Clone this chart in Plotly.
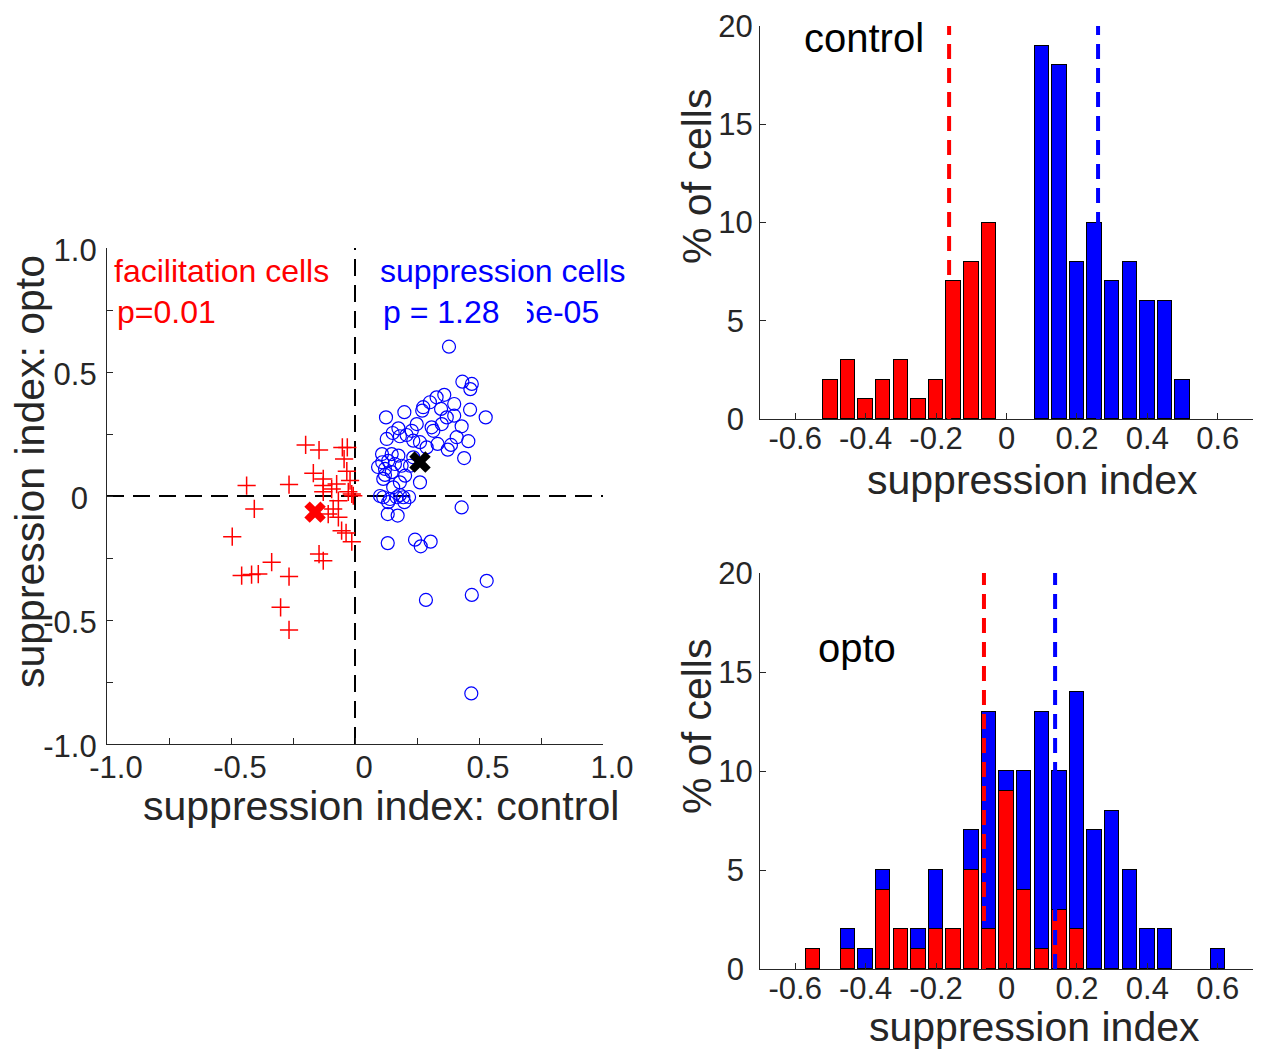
import plotly.graph_objects as go

# ---------------- data ----------------
# scatter: facilitation cells (red +)
fac_x = [-0.199, -0.145, -0.051, -0.031, -0.044, -0.033, -0.168, -0.128, -0.074, -0.020,
         -0.437, -0.266, -0.128, -0.094, -0.128, -0.027, -0.013, -0.007, -0.067, -0.406,
         -0.088, -0.108, -0.067, -0.054, -0.036, -0.013, -0.495, -0.145, -0.128, -0.336,
         -0.457, -0.417, -0.390, -0.266, -0.300, -0.266]
fac_y = [0.206, 0.185, 0.196, 0.196, 0.149, 0.100, 0.092, 0.069, 0.048, 0.062,
         0.042, 0.046, 0.042, 0.028, 0.017, 0.017, 0.008, 0.001, -0.019, -0.052,
         -0.052, -0.073, -0.086, -0.140, -0.149, -0.184, -0.164, -0.234, -0.261, -0.267,
         -0.321, -0.317, -0.315, -0.325, -0.449, -0.540]
# scatter: suppression cells (blue o)
sup_x = [0.379, 0.433, 0.471, 0.465, 0.360, 0.329, 0.302, 0.275, 0.347, 0.400,
         0.464, 0.527, 0.125, 0.199, 0.271, 0.370, 0.400, 0.249, 0.350, 0.430,
         0.175, 0.152, 0.229, 0.316, 0.128, 0.181, 0.208, 0.235, 0.262, 0.333,
         0.387, 0.410, 0.457, 0.374, 0.289, 0.440, 0.148, 0.175, 0.110, 0.134,
         0.161, 0.121, 0.188, 0.148, 0.202, 0.181, 0.114, 0.262, 0.154, 0.114,
         0.141, 0.168, 0.195, 0.134, 0.199, 0.430, 0.132, 0.172, 0.222, 0.235,
         0.309, 0.132, 0.242, 0.265, 0.305, 0.531, 0.471, 0.286, 0.469, 0.101,
         0.218, 0.181, 0.121, 0.093, 0.109]
sup_y = [0.602, 0.461, 0.452, 0.431, 0.408, 0.398, 0.378, 0.358, 0.351, 0.371,
         0.348, 0.317, 0.317, 0.338, 0.344, 0.317, 0.324, 0.290, 0.290, 0.281,
         0.273, 0.254, 0.263, 0.263, 0.230, 0.241, 0.246, 0.223, 0.217, 0.210,
         0.206, 0.237, 0.221, 0.187, 0.196, 0.153, 0.169, 0.163, 0.136, 0.142,
         0.129, 0.109, 0.122, 0.096, 0.082, 0.055, 0.069, 0.055, 0.035, -0.005,
         -0.012, -0.005, -0.005, -0.025, -0.025, -0.046, -0.073, -0.079, 0.122, 0.156,
         0.277, -0.190, -0.176, -0.203, -0.184, -0.342, -0.399, -0.419, -0.796, 0.000,
         -0.004, 0.004, 0.085, 0.117, 0.169]
fac_mean = (-0.161, -0.065)
sup_mean = (0.262, 0.137)

# histogram: control
ctrl_red_x = [-0.50, -0.45, -0.40, -0.35, -0.30, -0.25, -0.20, -0.15, -0.10, -0.05]
ctrl_red_pct = [2, 3, 1, 2, 3, 1, 2, 7, 8, 10]
ctrl_blue_x = [0.10, 0.15, 0.20, 0.25, 0.30, 0.35, 0.40, 0.45, 0.50]
ctrl_blue_pct = [19, 18, 8, 10, 7, 8, 6, 6, 2]
ctrl_red_median = -0.163
ctrl_blue_median = 0.26

# histogram: opto (red part and blue part stacked)
opto_x = [-0.55, -0.45, -0.40, -0.35, -0.30, -0.25, -0.20, -0.15, -0.10, -0.05, 0.00,
          0.05, 0.10, 0.15, 0.20, 0.25, 0.30, 0.35, 0.40, 0.45, 0.60]
opto_red_pct = [1, 1, 0, 4, 2, 1, 2, 2, 5, 2, 9, 4, 1, 3, 2, 0, 0, 0, 0, 0, 0]
opto_blue_pct = [0, 1, 1, 1, 0, 1, 3, 0, 2, 11, 1, 6, 12, 7, 12, 7, 8, 5, 2, 2, 1]
opto_red_median = -0.064
opto_blue_median = 0.138

NB = "\u00a0"
scatter_ticks = [-1.0, -0.75, -0.5, -0.25, 0, 0.25, 0.5, 0.75, 1.0]
scatter_x_labels = ["-1.0", "", "-0.5", "", "0", "", "0.5", "", "1.0"]
scatter_y_labels = ["-1.0", "", "-0.5", "", "0" + NB, "", "0.5", "", "1.0"]
hist_x_ticks = [-0.6, -0.4, -0.2, 0, 0.2, 0.4, 0.6]
hist_x_labels = ["-0.6", "-0.4", "-0.2", "0", "0.2", "0.4", "0.6"]
hist_y_ticks = [0, 5, 10, 15, 20]
hist_y_labels = ["0" + NB, "5" + NB, "10", "15", "20"]

RED = "#ff0000"
BLUE = "#0000ff"
AX = "#262626"
FONT = "Liberation Sans, Arial, sans-serif"
W, H = 1261, 1049

fig = go.Figure()

# ---- scatter ----
fig.add_trace(go.Scatter(x=[0, 0], y=[-1, 1], mode="lines",
                         line=dict(color="black", width=2, dash="17px,9px"),
                         xaxis="x", yaxis="y", hoverinfo="skip"))
fig.add_trace(go.Scatter(x=[-1, 1], y=[0, 0], mode="lines",
                         line=dict(color="black", width=2, dash="17px,9px"),
                         xaxis="x", yaxis="y", hoverinfo="skip"))
fig.add_trace(go.Scatter(x=fac_x, y=fac_y, mode="markers",
                         marker=dict(symbol="cross-thin", size=13,
                                     line=dict(color=RED, width=1.5), color=RED),
                         xaxis="x", yaxis="y"))
fig.add_trace(go.Scatter(x=sup_x, y=sup_y, mode="markers",
                         marker=dict(symbol="circle-open", size=13,
                                     line=dict(color=BLUE, width=1.2), color=BLUE),
                         xaxis="x", yaxis="y"))
fig.add_trace(go.Scatter(x=[fac_mean[0]], y=[fac_mean[1]], mode="markers",
                         marker=dict(symbol="x", size=19, color=RED, line=dict(width=0)),
                         xaxis="x", yaxis="y"))
fig.add_trace(go.Scatter(x=[sup_mean[0]], y=[sup_mean[1]], mode="markers",
                         marker=dict(symbol="x", size=19, color="black", line=dict(width=0)),
                         xaxis="x", yaxis="y"))

# ---- control histogram ----
fig.add_trace(go.Bar(x=ctrl_red_x, y=ctrl_red_pct, width=0.041,
                     marker=dict(color=RED, line=dict(color="black", width=1)),
                     xaxis="x2", yaxis="y2"))
fig.add_trace(go.Bar(x=ctrl_blue_x, y=ctrl_blue_pct, width=0.041,
                     marker=dict(color=BLUE, line=dict(color="black", width=1)),
                     xaxis="x2", yaxis="y2"))
fig.add_trace(go.Scatter(x=[ctrl_red_median] * 2, y=[0, 20], mode="lines",
                         line=dict(color=RED, width=4, dash="15px,9px"),
                         xaxis="x2", yaxis="y2"))
fig.add_trace(go.Scatter(x=[ctrl_blue_median] * 2, y=[0, 20], mode="lines",
                         line=dict(color=BLUE, width=4, dash="15px,9px"),
                         xaxis="x2", yaxis="y2"))

# ---- opto histogram ----
fig.add_trace(go.Bar(x=opto_x, y=opto_red_pct, width=0.041,
                     marker=dict(color=RED, line=dict(color="black", width=1)),
                     xaxis="x3", yaxis="y3"))
fig.add_trace(go.Bar(x=opto_x, y=opto_blue_pct, width=0.041,
                     marker=dict(color=BLUE, line=dict(color="black", width=1)),
                     xaxis="x3", yaxis="y3"))
fig.add_trace(go.Scatter(x=[opto_red_median] * 2, y=[0, 20], mode="lines",
                         line=dict(color=RED, width=4, dash="15px,9px"),
                         xaxis="x3", yaxis="y3"))
fig.add_trace(go.Scatter(x=[opto_blue_median] * 2, y=[0, 20], mode="lines",
                         line=dict(color=BLUE, width=4, dash="15px,9px"),
                         xaxis="x3", yaxis="y3"))

def px_x(p):
    return p / W

def px_y(p):
    return (H - p) / H

axis_common = dict(showgrid=False, zeroline=False, showline=True, linecolor=AX,
                   linewidth=1.2, ticks="inside", ticklen=6, tickcolor=AX,
                   automargin=False,
                   tickfont=dict(family=FONT, size=31, color=AX), tickmode="array")

fig.update_layout(
    width=W, height=H, margin=dict(l=0, r=0, t=0, b=0, autoexpand=False),
    paper_bgcolor="white", plot_bgcolor="white", showlegend=False,
    barmode="stack", bargap=0,
    xaxis=dict(domain=[px_x(107), px_x(603)], range=[-1, 1], anchor="y",
               ticklabelstandoff=-4, ticklabelshift=9,
               tickvals=scatter_ticks, ticktext=scatter_x_labels, **axis_common),
    yaxis=dict(domain=[px_y(744), px_y(248)], range=[-1, 1], anchor="x",
               ticklabelstandoff=3, ticklabelshift=2,
               tickvals=scatter_ticks, ticktext=scatter_y_labels, **axis_common),
    xaxis2=dict(domain=[px_x(760), px_x(1253)], range=[-0.7, 0.7], anchor="y2",
                ticklabelstandoff=-8,
                tickvals=hist_x_ticks, ticktext=hist_x_labels, **axis_common),
    yaxis2=dict(domain=[px_y(419), px_y(26)], range=[0, 20], anchor="x2",
                tickvals=hist_y_ticks, ticktext=hist_y_labels, **axis_common),
    xaxis3=dict(domain=[px_x(760), px_x(1253)], range=[-0.7, 0.7], anchor="y3",
                ticklabelstandoff=-8,
                tickvals=hist_x_ticks, ticktext=hist_x_labels, **axis_common),
    yaxis3=dict(domain=[px_y(969), px_y(573)], range=[0, 20], anchor="x3",
                tickvals=hist_y_ticks, ticktext=hist_y_labels, **axis_common),
)

def note(text, x, y, size, color, xanchor="left", angle=0, **kw):
    fig.add_annotation(text=text, x=px_x(x), y=px_y(y), xref="paper", yref="paper",
                       xanchor=xanchor, yanchor="middle", showarrow=False, textangle=angle,
                       font=dict(family=FONT, size=size, color=color), **kw)

note("facilitation cells", 112, 271, 32, RED)
note("p=0.01", 115, 312, 32, RED)
note("suppression cells", 378, 271, 32, BLUE)
note("p = 1.2856e-05", 381, 312, 32, BLUE)
# white patch hiding part of the p-value, as in the original
fig.add_annotation(text=" ", x=px_x(499), y=px_y(312), xref="paper", yref="paper",
                   xanchor="left", yanchor="middle", showarrow=False, width=28, height=38,
                   bgcolor="white", borderpad=0, borderwidth=0,
                   font=dict(family=FONT, size=10, color="white"))

note("suppression index: control", 381, 806, 41, AX, xanchor="center")
note("suppression index: opto", 30, 472, 41, AX, xanchor="center", angle=-90)
note("control", 802, 38, 40, "black")
note("opto", 816, 648, 40, "black")
note("suppression index", 1032, 480, 41, AX, xanchor="center")
note("% of cells", 697, 177, 41, AX, xanchor="center", angle=-90)
note("suppression index", 1034, 1027, 41, AX, xanchor="center")
note("% of cells", 697, 727, 41, AX, xanchor="center", angle=-90)

fig.write_html("out.html")
